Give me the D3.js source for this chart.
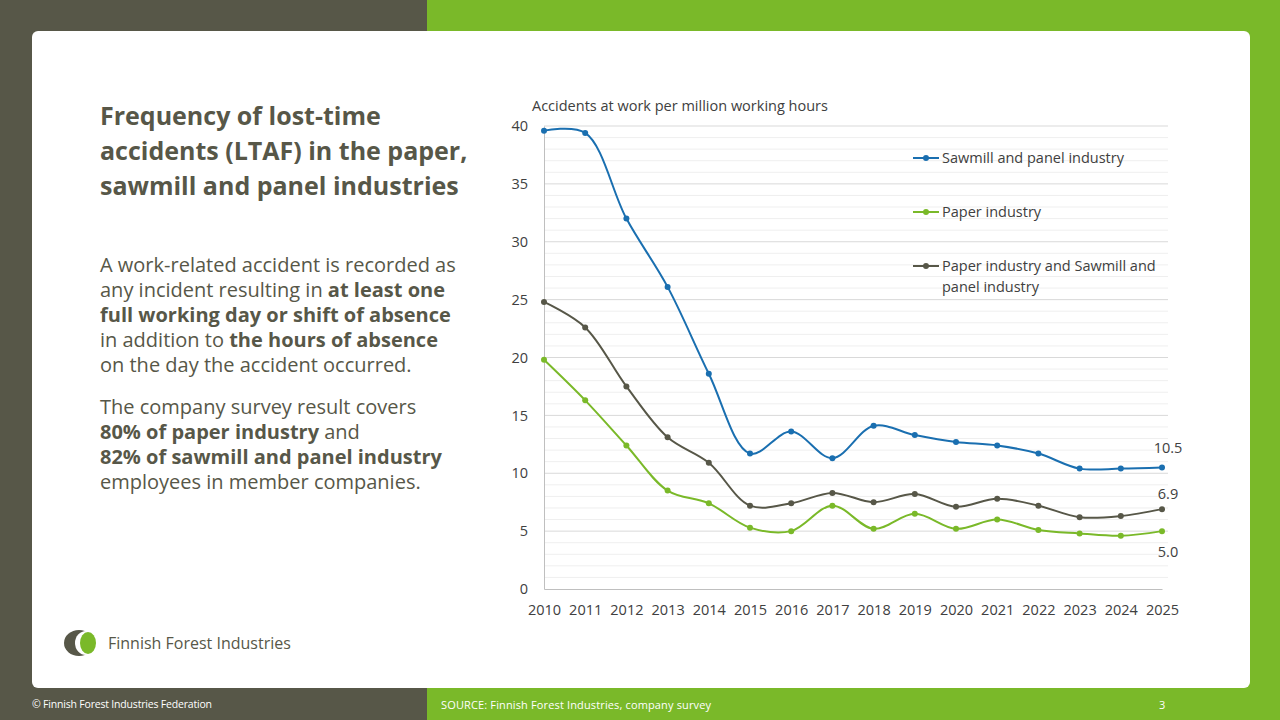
<!DOCTYPE html>
<html><head><meta charset="utf-8">
<script src="https://cdn.jsdelivr.net/npm/d3@7"></script>
<style>
body{margin:0;font-family:"Open Sans",sans-serif;}
svg text{font-family:"Open Sans",sans-serif;}
</style></head>
<body><svg id="chart" width="1280" height="720"></svg>
<script>
// Values
let years = d3.range(2010, 2026);
let series = [
  {name: "Sawmill and panel industry", color: "#1a6fb0",
   values: [39.6, 39.4, 32.0, 26.1, 18.6, 11.7, 13.6, 11.3, 14.1, 13.3, 12.7, 12.4, 11.7, 10.4, 10.4, 10.5]},
  {name: "Paper industry", color: "#7ab929",
   values: [19.8, 16.3, 12.4, 8.5, 7.4, 5.3, 5.0, 7.2, 5.2, 6.5, 5.2, 6.0, 5.1, 4.8, 4.6, 5.0]},
  {name: "Paper industry and Sawmill and panel industry", color: "#575748",
   values: [24.8, 22.6, 17.5, 13.1, 10.9, 7.2, 7.4, 8.3, 7.5, 8.2, 7.1, 7.8, 7.2, 6.2, 6.3, 6.9]}
];

let svg = d3.select("#chart");
// background
svg.append("rect").attr("width", 427).attr("height", 720).attr("fill", "#575748");
svg.append("rect").attr("x", 427).attr("width", 853).attr("height", 720).attr("fill", "#7ab929");
svg.append("rect").attr("x", 32).attr("y", 31).attr("width", 1218).attr("height", 657).attr("rx", 6).attr("fill", "#fff");

// footer
svg.append("text").attr("x", 32).attr("y", 708).attr("fill", "#fff").attr("font-size", 10.5).attr("textLength", 180).text("© Finnish Forest Industries Federation");
svg.append("text").attr("x", 441).attr("y", 709).attr("fill", "#fff").attr("font-size", 11).attr("textLength", 270).text("SOURCE: Finnish Forest Industries, company survey");
svg.append("text").attr("x", 1159).attr("y", 709).attr("fill", "#fff").attr("font-size", 11).text("3");

// title
let title = svg.append("text").attr("fill", "#575748").attr("font-size", 25).attr("font-weight", "bold");
["Frequency of lost-time", "accidents (LTAF) in the paper,", "sawmill and panel industries"].forEach(function(t, i) {
  title.append("tspan").attr("x", 100).attr("y", 125 + i * 35).text(t);
});

// body text
let body = [
  [["A work-related accident is recorded as", 0]],
  [["any incident resulting in ", 0], ["at least one", 1]],
  [["full working day or shift of absence", 1]],
  [["in addition to ", 0], ["the hours of absence", 1]],
  [["on the day the accident occurred.", 0]],
  null,
  [["The company survey result covers", 0]],
  [["80% of paper industry", 1], [" and", 0]],
  [["82% of sawmill and panel industry", 1]],
  [["employees in member companies.", 0]]
];
let yy = 272;
body.forEach(function(line) {
  if (line === null) { yy += 17; return; }
  let t = svg.append("text").attr("x", 100).attr("y", yy).attr("fill", "#575748").attr("font-size", 20);
  line.forEach(function(p) {
    t.append("tspan").attr("font-weight", p[1] ? "bold" : "normal").text(p[0]);
  });
  yy += 25;
});

// logo
svg.append("ellipse").attr("cx", 79).attr("cy", 643).attr("rx", 15).attr("ry", 13).attr("fill", "#575748");
svg.append("ellipse").attr("cx", 86).attr("cy", 643).attr("rx", 11).attr("ry", 12).attr("fill", "#fff");
svg.append("ellipse").attr("cx", 88).attr("cy", 643).attr("rx", 8).attr("ry", 11).attr("fill", "#7ab929");
svg.append("text").attr("x", 108).attr("y", 649).attr("fill", "#575748").attr("font-size", 16).text("Finnish Forest Industries");

// chart
let x = d3.scaleLinear().domain([2010, 2025]).range([544, 1162]);
let y = d3.scaleLinear().domain([0, 40]).range([589, 126]);

svg.append("g").selectAll("line").data(d3.range(1, 41)).join("line")
  .attr("x1", 544).attr("x2", 1168)
  .attr("y1", d => y(d)).attr("y2", d => y(d))
  .attr("stroke", d => d % 5 === 0 ? "#d9d9d9" : "#efefef").attr("stroke-width", 1);

let yAxis = svg.append("g").attr("transform", "translate(544,0)")
  .call(d3.axisLeft(y).tickValues(d3.range(0, 45, 5)).tickSize(0).tickPadding(16));
yAxis.select(".domain").attr("stroke", "#bfbfbf");
yAxis.selectAll("text").attr("font-size", 14.5).attr("fill", "#404040");

let xAxis = svg.append("g").attr("transform", "translate(0,589)")
  .call(d3.axisBottom(x).tickValues(years).tickFormat(d3.format("d")).tickSize(0).tickPadding(16));
xAxis.select(".domain").attr("stroke", "#bfbfbf");
xAxis.selectAll("text").attr("font-size", 14.5).attr("fill", "#404040");

svg.append("text").attr("x", 532).attr("y", 111).attr("font-size", 14.5).attr("fill", "#404040").text("Accidents at work per million working hours");

let line = d3.line().x((d, i) => x(years[i])).y(d => y(d)).curve(d3.curveCatmullRom.alpha(0.5));
series.forEach(function(s) {
  svg.append("path").attr("d", line(s.values)).attr("fill", "none").attr("stroke", s.color).attr("stroke-width", 2);
  svg.append("g").selectAll("circle").data(s.values).join("circle")
    .attr("cx", (d, i) => x(years[i])).attr("cy", d => y(d)).attr("r", 3).attr("fill", s.color);
});

// end labels
[[10.5, -14], [6.9, -10], [5.0, 26]].forEach(function(l) {
  svg.append("text").attr("x", x(2025) + 6).attr("y", y(l[0]) + l[1]).attr("text-anchor", "middle")
    .attr("font-size", 14.5).attr("fill", "#404040").text(d3.format(".1f")(l[0]));
});

// legend
let legY = [158, 212, 266];
series.forEach(function(s, i) {
  let g = svg.append("g").attr("transform", "translate(913," + legY[i] + ")");
  g.append("line").attr("x1", 0).attr("x2", 26).attr("stroke", s.color).attr("stroke-width", 2);
  g.append("circle").attr("cx", 13).attr("r", 3).attr("fill", s.color);
  let t = g.append("text").attr("x", 29).attr("y", 5).attr("font-size", 14.5).attr("fill", "#404040");
  if (i === 2) {
    t.append("tspan").attr("x", 29).text("Paper industry and Sawmill and");
    t.append("tspan").attr("x", 29).attr("dy", 21).text("panel industry");
  } else t.text(s.name);
});
</script></body></html>
